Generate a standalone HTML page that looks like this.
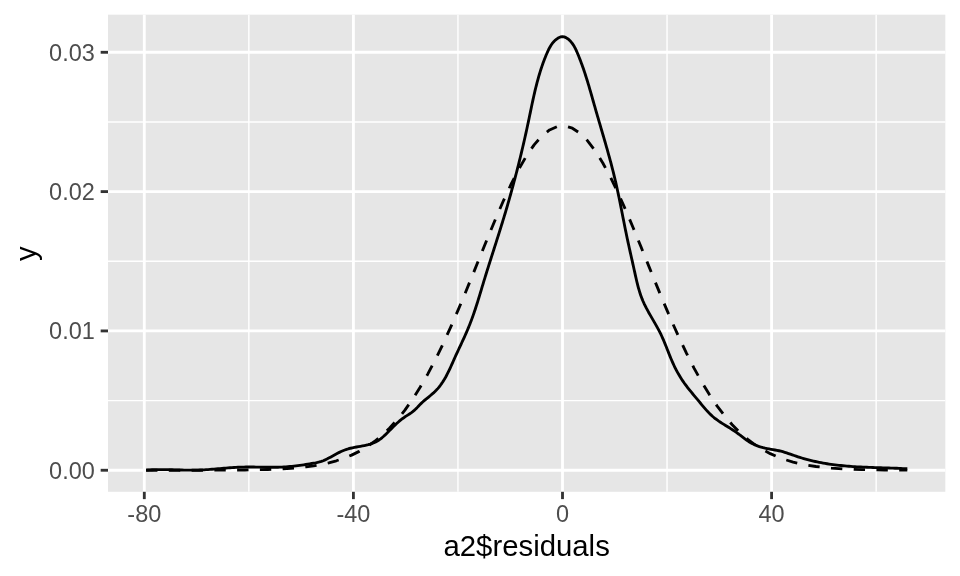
<!DOCTYPE html>
<html><head><meta charset="utf-8"><title>density</title>
<style>
html,body{margin:0;padding:0;background:#fff;}
svg{display:block;font-family:"Liberation Sans",sans-serif;will-change:transform;}
</style></head>
<body>
<svg width="960" height="576" viewBox="0 0 960 576">
<rect width="960" height="576" fill="#fff"/>
<rect x="108.0" y="14.67" width="837.33" height="477.13" fill="#e6e6e6"/>
<line x1="108.0" x2="945.33" y1="400.59" y2="400.59" stroke="#fff" stroke-width="1.42"/>
<line x1="108.0" x2="945.33" y1="261.27" y2="261.27" stroke="#fff" stroke-width="1.42"/>
<line x1="108.0" x2="945.33" y1="121.95" y2="121.95" stroke="#fff" stroke-width="1.42"/>
<line y1="14.67" y2="491.8" x1="248.85" x2="248.85" stroke="#fff" stroke-width="1.42"/>
<line y1="14.67" y2="491.8" x1="457.95" x2="457.95" stroke="#fff" stroke-width="1.42"/>
<line y1="14.67" y2="491.8" x1="667.05" x2="667.05" stroke="#fff" stroke-width="1.42"/>
<line y1="14.67" y2="491.8" x1="876.15" x2="876.15" stroke="#fff" stroke-width="1.42"/>
<line x1="108.0" x2="945.33" y1="470.25" y2="470.25" stroke="#fff" stroke-width="2.85"/>
<line x1="108.0" x2="945.33" y1="330.93" y2="330.93" stroke="#fff" stroke-width="2.85"/>
<line x1="108.0" x2="945.33" y1="191.61" y2="191.61" stroke="#fff" stroke-width="2.85"/>
<line x1="108.0" x2="945.33" y1="52.29" y2="52.29" stroke="#fff" stroke-width="2.85"/>
<line y1="14.67" y2="491.8" x1="144.30" x2="144.30" stroke="#fff" stroke-width="2.85"/>
<line y1="14.67" y2="491.8" x1="353.40" x2="353.40" stroke="#fff" stroke-width="2.85"/>
<line y1="14.67" y2="491.8" x1="562.50" x2="562.50" stroke="#fff" stroke-width="2.85"/>
<line y1="14.67" y2="491.8" x1="771.60" x2="771.60" stroke="#fff" stroke-width="2.85"/>
<path d="M146.06,470.10 L148.06,469.96 L150.06,469.85 L152.05,469.76 L154.05,469.70 L156.05,469.65 L158.05,469.63 L160.05,469.62 L162.05,469.62 L164.05,469.63 L166.05,469.66 L168.05,469.70 L170.06,469.74 L172.06,469.79 L174.06,469.84 L176.06,469.89 L178.06,469.95 L180.06,470.00 L182.07,470.04 L184.07,470.09 L186.07,470.12 L188.07,470.15 L190.07,470.16 L192.07,470.16 L194.07,470.15 L196.07,470.12 L198.06,470.07 L200.06,470.01 L202.06,469.92 L204.05,469.82 L206.05,469.70 L208.04,469.57 L210.04,469.43 L212.03,469.28 L214.02,469.12 L216.01,468.95 L218.01,468.78 L220.00,468.61 L221.99,468.44 L223.98,468.27 L225.98,468.10 L227.97,467.94 L229.96,467.79 L231.95,467.64 L233.95,467.50 L235.94,467.38 L237.94,467.27 L239.93,467.18 L241.93,467.10 L243.92,467.05 L245.92,467.01 L247.92,466.99 L249.91,466.99 L251.91,467.00 L253.91,467.02 L255.91,467.05 L257.91,467.09 L259.91,467.13 L261.91,467.17 L263.91,467.20 L265.91,467.24 L267.91,467.27 L269.91,467.29 L271.91,467.29 L273.91,467.29 L275.90,467.27 L277.90,467.23 L279.90,467.17 L281.90,467.09 L283.89,466.98 L285.89,466.85 L287.88,466.70 L289.88,466.52 L291.87,466.33 L293.86,466.11 L295.85,465.88 L297.83,465.63 L299.82,465.36 L301.80,465.09 L303.78,464.79 L305.76,464.49 L307.74,464.18 L309.71,463.85 L311.68,463.52 L313.65,463.18 L315.61,462.83 L317.56,462.43 L319.49,461.97 L321.40,461.41 L323.26,460.72 L325.10,459.92 L326.91,459.04 L328.70,458.11 L330.47,457.14 L332.23,456.16 L333.99,455.19 L335.75,454.23 L337.52,453.29 L339.30,452.39 L341.09,451.53 L342.91,450.73 L344.75,450.00 L346.63,449.33 L348.54,448.75 L350.49,448.24 L352.45,447.79 L354.44,447.38 L356.44,447.01 L358.44,446.65 L360.44,446.29 L362.44,445.92 L364.42,445.53 L366.38,445.10 L368.32,444.63 L370.22,444.08 L372.09,443.46 L373.91,442.75 L375.67,441.93 L377.39,440.99 L379.04,439.94 L380.64,438.78 L382.20,437.54 L383.71,436.23 L385.20,434.86 L386.66,433.45 L388.09,432.02 L389.52,430.57 L390.93,429.13 L392.35,427.71 L393.77,426.31 L395.20,424.93 L396.65,423.57 L398.12,422.24 L399.62,420.95 L401.15,419.69 L402.73,418.48 L404.35,417.30 L406.02,416.17 L407.73,415.08 L409.44,413.98 L411.12,412.85 L412.73,411.67 L414.25,410.40 L415.69,409.05 L417.07,407.65 L418.42,406.21 L419.79,404.78 L421.20,403.38 L422.66,402.01 L424.18,400.68 L425.73,399.37 L427.31,398.08 L428.89,396.79 L430.46,395.49 L432.01,394.18 L433.53,392.85 L435.00,391.47 L436.40,390.05 L437.74,388.59 L439.02,387.08 L440.23,385.52 L441.39,383.93 L442.51,382.30 L443.57,380.64 L444.59,378.94 L445.58,377.22 L446.53,375.47 L447.44,373.71 L448.34,371.92 L449.21,370.11 L450.06,368.30 L450.90,366.47 L451.72,364.63 L452.54,362.80 L453.36,360.96 L454.18,359.12 L455.01,357.28 L455.84,355.45 L456.68,353.63 L457.52,351.81 L458.37,349.99 L459.22,348.17 L460.06,346.36 L460.91,344.54 L461.75,342.73 L462.59,340.92 L463.43,339.10 L464.26,337.29 L465.08,335.47 L465.89,333.65 L466.69,331.82 L467.47,329.99 L468.25,328.15 L469.01,326.31 L469.75,324.46 L470.48,322.60 L471.19,320.74 L471.88,318.87 L472.56,316.99 L473.23,315.11 L473.89,313.22 L474.53,311.33 L475.17,309.43 L475.79,307.53 L476.41,305.62 L477.01,303.72 L477.62,301.81 L478.21,299.89 L478.80,297.98 L479.38,296.06 L479.97,294.14 L480.55,292.22 L481.12,290.30 L481.70,288.38 L482.28,286.46 L482.86,284.54 L483.44,282.62 L484.02,280.71 L484.60,278.79 L485.19,276.88 L485.78,274.97 L486.38,273.05 L486.97,271.14 L487.57,269.24 L488.17,267.33 L488.77,265.42 L489.38,263.51 L489.98,261.61 L490.58,259.70 L491.19,257.80 L491.80,255.90 L492.40,253.99 L493.01,252.09 L493.62,250.19 L494.23,248.28 L494.83,246.38 L495.44,244.48 L496.05,242.58 L496.65,240.67 L497.25,238.77 L497.86,236.87 L498.46,234.96 L499.06,233.06 L499.66,231.15 L500.25,229.25 L500.85,227.34 L501.44,225.43 L502.03,223.53 L502.62,221.62 L503.20,219.71 L503.78,217.79 L504.36,215.88 L504.94,213.97 L505.51,212.05 L506.07,210.13 L506.64,208.22 L507.20,206.30 L507.76,204.38 L508.31,202.45 L508.86,200.53 L509.41,198.61 L509.96,196.68 L510.50,194.76 L511.03,192.83 L511.57,190.90 L512.10,188.97 L512.63,187.04 L513.15,185.11 L513.67,183.18 L514.19,181.24 L514.70,179.31 L515.21,177.37 L515.72,175.43 L516.23,173.50 L516.73,171.56 L517.22,169.62 L517.72,167.68 L518.21,165.74 L518.70,163.80 L519.18,161.85 L519.66,159.91 L520.14,157.97 L520.61,156.02 L521.08,154.08 L521.55,152.13 L522.01,150.18 L522.47,148.24 L522.93,146.29 L523.38,144.34 L523.83,142.39 L524.27,140.44 L524.72,138.49 L525.16,136.54 L525.59,134.59 L526.03,132.63 L526.45,130.68 L526.88,128.73 L527.30,126.77 L527.72,124.82 L528.14,122.87 L528.55,120.91 L528.96,118.96 L529.36,117.00 L529.77,115.05 L530.18,113.09 L530.58,111.14 L530.99,109.18 L531.39,107.23 L531.81,105.28 L532.22,103.32 L532.64,101.37 L533.06,99.42 L533.49,97.48 L533.93,95.53 L534.37,93.58 L534.82,91.64 L535.28,89.70 L535.75,87.76 L536.24,85.83 L536.73,83.89 L537.24,81.96 L537.75,80.03 L538.29,78.11 L538.83,76.19 L539.40,74.27 L539.98,72.35 L540.57,70.44 L541.19,68.53 L541.82,66.63 L542.47,64.73 L543.15,62.84 L543.84,60.95 L544.56,59.06 L545.30,57.18 L546.06,55.30 L546.85,53.43 L547.67,51.57 L548.53,49.73 L549.45,47.94 L550.44,46.20 L551.52,44.52 L552.69,42.94 L553.98,41.45 L555.39,40.08 L556.95,38.83 L558.65,37.74 L560.47,36.93 L562.34,36.59 L564.20,36.86 L565.99,37.62 L567.66,38.69 L569.19,39.93 L570.58,41.31 L571.84,42.81 L572.99,44.42 L574.04,46.11 L575.01,47.88 L575.91,49.70 L576.76,51.55 L577.57,53.44 L578.35,55.32 L579.12,57.22 L579.86,59.11 L580.59,61.00 L581.30,62.89 L581.99,64.79 L582.67,66.69 L583.34,68.59 L583.99,70.48 L584.62,72.39 L585.25,74.29 L585.86,76.19 L586.47,78.09 L587.06,80.00 L587.64,81.90 L588.22,83.81 L588.79,85.71 L589.35,87.62 L589.91,89.53 L590.46,91.44 L591.01,93.35 L591.56,95.26 L592.10,97.17 L592.64,99.08 L593.18,101.00 L593.72,102.91 L594.26,104.82 L594.81,106.73 L595.35,108.65 L595.90,110.56 L596.46,112.48 L597.01,114.39 L597.57,116.31 L598.12,118.22 L598.68,120.14 L599.24,122.06 L599.80,123.97 L600.37,125.89 L600.93,127.81 L601.49,129.73 L602.05,131.65 L602.62,133.57 L603.18,135.49 L603.74,137.41 L604.30,139.34 L604.85,141.26 L605.41,143.19 L605.96,145.11 L606.51,147.04 L607.06,148.97 L607.60,150.90 L608.14,152.82 L608.68,154.76 L609.21,156.69 L609.74,158.62 L610.26,160.56 L610.78,162.49 L611.29,164.43 L611.80,166.37 L612.30,168.30 L612.80,170.24 L613.29,172.19 L613.77,174.13 L614.24,176.07 L614.71,178.02 L615.17,179.97 L615.63,181.92 L616.07,183.87 L616.51,185.82 L616.94,187.77 L617.37,189.73 L617.79,191.68 L618.20,193.64 L618.61,195.60 L619.02,197.56 L619.42,199.51 L619.82,201.47 L620.22,203.43 L620.61,205.39 L621.00,207.35 L621.39,209.31 L621.77,211.28 L622.16,213.24 L622.54,215.20 L622.93,217.16 L623.31,219.12 L623.70,221.08 L624.09,223.04 L624.48,225.00 L624.87,226.96 L625.26,228.92 L625.66,230.87 L626.06,232.83 L626.46,234.79 L626.87,236.74 L627.28,238.69 L627.70,240.65 L628.12,242.60 L628.55,244.55 L628.98,246.50 L629.41,248.45 L629.84,250.40 L630.27,252.35 L630.71,254.30 L631.15,256.25 L631.59,258.20 L632.03,260.16 L632.47,262.11 L632.90,264.07 L633.34,266.02 L633.78,267.98 L634.21,269.94 L634.64,271.91 L635.08,273.87 L635.51,275.83 L635.95,277.80 L636.40,279.76 L636.86,281.71 L637.34,283.66 L637.83,285.61 L638.35,287.54 L638.89,289.47 L639.46,291.38 L640.06,293.28 L640.70,295.17 L641.37,297.04 L642.08,298.90 L642.83,300.73 L643.63,302.55 L644.47,304.36 L645.35,306.14 L646.25,307.92 L647.19,309.68 L648.14,311.44 L649.12,313.18 L650.11,314.92 L651.11,316.66 L652.12,318.40 L653.13,320.13 L654.14,321.87 L655.15,323.60 L656.14,325.35 L657.12,327.10 L658.09,328.86 L659.03,330.63 L659.94,332.41 L660.83,334.20 L661.68,336.01 L662.51,337.83 L663.31,339.66 L664.09,341.50 L664.86,343.35 L665.61,345.20 L666.35,347.06 L667.09,348.92 L667.82,350.78 L668.56,352.64 L669.29,354.50 L670.04,356.36 L670.80,358.21 L671.57,360.05 L672.36,361.88 L673.17,363.70 L674.01,365.51 L674.88,367.31 L675.78,369.09 L676.70,370.85 L677.66,372.60 L678.65,374.33 L679.67,376.05 L680.72,377.75 L681.80,379.43 L682.91,381.09 L684.04,382.73 L685.21,384.35 L686.40,385.95 L687.61,387.54 L688.84,389.11 L690.10,390.67 L691.36,392.22 L692.64,393.77 L693.92,395.30 L695.21,396.84 L696.49,398.38 L697.78,399.92 L699.06,401.46 L700.33,403.01 L701.61,404.56 L702.89,406.10 L704.18,407.63 L705.48,409.14 L706.81,410.63 L708.16,412.09 L709.55,413.52 L710.98,414.90 L712.44,416.24 L713.96,417.53 L715.53,418.77 L717.14,419.96 L718.78,421.12 L720.45,422.24 L722.14,423.34 L723.85,424.41 L725.57,425.48 L727.28,426.53 L728.99,427.58 L730.69,428.64 L732.37,429.71 L734.04,430.80 L735.68,431.92 L737.30,433.07 L738.90,434.25 L740.48,435.48 L742.05,436.72 L743.64,437.96 L745.24,439.17 L746.87,440.33 L748.54,441.43 L750.25,442.45 L752.01,443.42 L753.79,444.31 L755.61,445.13 L757.46,445.89 L759.34,446.57 L761.25,447.18 L763.17,447.72 L765.12,448.19 L767.08,448.60 L769.06,448.97 L771.04,449.32 L773.02,449.65 L775.00,449.99 L776.97,450.36 L778.93,450.76 L780.88,451.22 L782.81,451.73 L784.72,452.30 L786.62,452.90 L788.51,453.53 L790.40,454.18 L792.29,454.85 L794.17,455.51 L796.06,456.16 L797.96,456.79 L799.86,457.40 L801.77,457.99 L803.69,458.55 L805.61,459.10 L807.54,459.62 L809.47,460.12 L811.41,460.60 L813.36,461.06 L815.31,461.50 L817.26,461.92 L819.22,462.32 L821.19,462.70 L823.15,463.06 L825.12,463.41 L827.10,463.73 L829.07,464.04 L831.05,464.33 L833.03,464.60 L835.01,464.86 L836.99,465.10 L838.98,465.33 L840.96,465.54 L842.95,465.74 L844.94,465.92 L846.93,466.10 L848.93,466.26 L850.92,466.41 L852.91,466.55 L854.91,466.68 L856.91,466.80 L858.90,466.91 L860.90,467.01 L862.90,467.11 L864.90,467.20 L866.90,467.28 L868.90,467.36 L870.90,467.44 L872.90,467.51 L874.90,467.58 L876.90,467.64 L878.90,467.71 L880.90,467.77 L882.90,467.83 L884.90,467.89 L886.90,467.95 L888.90,468.02 L890.90,468.08 L892.90,468.15 L894.89,468.22 L896.89,468.29 L898.88,468.37 L900.88,468.46 L902.87,468.55 L904.86,468.65 L906.85,468.75 L907.28,468.78" fill="none" stroke="#000" stroke-width="2.85" stroke-linejoin="round" stroke-linecap="butt"/>
<path d="M146.08,470.25 L153.69,470.25 L161.30,470.25 L168.91,470.24 L176.53,470.24 L184.14,470.24 L191.75,470.23 L199.36,470.22 L206.98,470.20 L214.59,470.18 L222.20,470.15 L229.81,470.11 L237.42,470.04 L245.04,469.96 L252.65,469.84 L260.26,469.69 L267.87,469.48 L275.49,469.19 L283.10,468.82 L290.71,468.33 L298.32,467.69 L305.94,466.87 L313.55,465.82 L321.16,464.49 L328.77,462.83 L336.38,460.76 L344.00,458.21 L351.61,455.10 L359.22,451.35 L366.83,446.85 L374.45,441.52 L382.06,435.27 L389.67,428.00 L397.28,419.63 L404.90,410.09 L412.51,399.33 L420.12,387.33 L427.73,374.09 L435.34,359.64 L442.96,344.04 L450.57,327.41 L458.18,309.90 L465.79,291.71 L473.41,273.06 L481.02,254.23 L488.63,235.52 L496.24,217.26 L503.85,199.79 L511.47,183.45 L519.08,168.60 L526.69,155.54 L534.30,144.59 L541.92,135.98 L549.53,129.93 L557.14,126.58 L564.75,126.01 L572.37,128.23 L579.98,133.19 L587.59,140.78 L595.20,150.80 L602.81,163.03 L610.43,177.19 L618.04,192.96 L625.65,210.01 L633.26,228.00 L640.88,246.56 L648.49,265.38 L656.10,284.14 L663.71,302.55 L671.33,320.36 L678.94,337.37 L686.55,353.40 L694.16,368.34 L701.77,382.08 L709.39,394.59 L717.00,405.85 L724.61,415.88 L732.22,424.72 L739.84,432.43 L747.45,439.09 L755.06,444.79 L762.67,449.61 L770.28,453.65 L777.90,457.01 L785.51,459.78 L793.12,462.03 L800.73,463.86 L808.35,465.31 L815.96,466.47 L823.57,467.38 L831.18,468.09 L838.80,468.63 L846.41,469.05 L854.02,469.37 L861.63,469.61 L869.24,469.79 L876.86,469.92 L884.47,470.01 L892.08,470.08 L899.69,470.13 L907.31,470.17" fill="none" stroke="#000" stroke-width="2.85" stroke-dasharray="11.38 11.38" stroke-linejoin="round" stroke-linecap="butt"/>
<line x1="100.67" x2="108.0" y1="470.25" y2="470.25" stroke="#333" stroke-width="2.85"/>
<line x1="100.67" x2="108.0" y1="330.93" y2="330.93" stroke="#333" stroke-width="2.85"/>
<line x1="100.67" x2="108.0" y1="191.61" y2="191.61" stroke="#333" stroke-width="2.85"/>
<line x1="100.67" x2="108.0" y1="52.29" y2="52.29" stroke="#333" stroke-width="2.85"/>
<line y1="491.8" y2="499.13" x1="144.30" x2="144.30" stroke="#333" stroke-width="2.85"/>
<line y1="491.8" y2="499.13" x1="353.40" x2="353.40" stroke="#333" stroke-width="2.85"/>
<line y1="491.8" y2="499.13" x1="562.50" x2="562.50" stroke="#333" stroke-width="2.85"/>
<line y1="491.8" y2="499.13" x1="771.60" x2="771.60" stroke="#333" stroke-width="2.85"/>
<text x="94.8" y="478.70" text-anchor="end" font-size="23.47" fill="#4d4d4d">0.00</text>
<text x="94.8" y="339.38" text-anchor="end" font-size="23.47" fill="#4d4d4d">0.01</text>
<text x="94.8" y="200.06" text-anchor="end" font-size="23.47" fill="#4d4d4d">0.02</text>
<text x="94.8" y="60.74" text-anchor="end" font-size="23.47" fill="#4d4d4d">0.03</text>
<text x="144.30" y="522.3" text-anchor="middle" font-size="23.47" fill="#4d4d4d">-80</text>
<text x="353.40" y="522.3" text-anchor="middle" font-size="23.47" fill="#4d4d4d">-40</text>
<text x="562.50" y="522.3" text-anchor="middle" font-size="23.47" fill="#4d4d4d">0</text>
<text x="771.60" y="522.3" text-anchor="middle" font-size="23.47" fill="#4d4d4d">40</text>
<text x="526.67" y="555.6" text-anchor="middle" font-size="29.33" fill="#000">a2$residuals</text>
<text transform="translate(36,253.6) rotate(-90)" text-anchor="middle" font-size="29.33" fill="#000">y</text>
</svg>
</body></html>
